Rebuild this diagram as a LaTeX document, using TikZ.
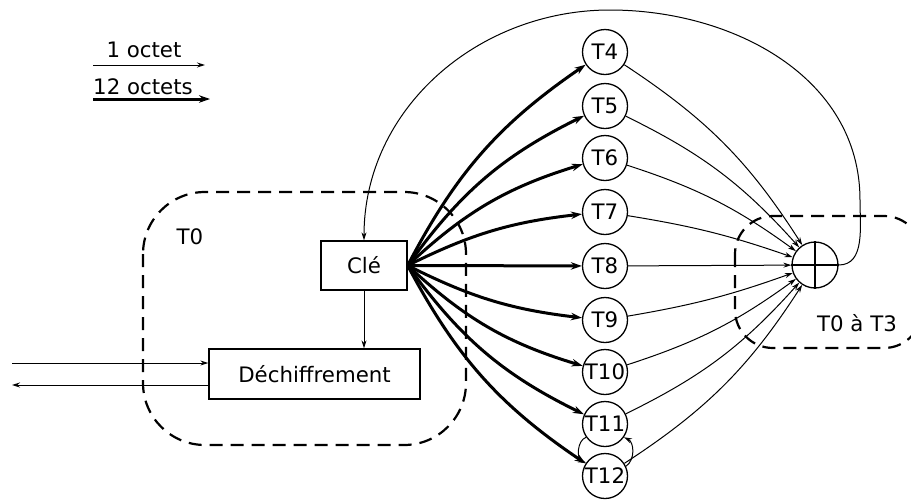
\documentclass[tikz,border=0pt]{standalone}
\usepackage{fontspec}
\setmainfont{DejaVu Sans}
\usetikzlibrary{arrows.meta}

\tikzset{
  every node/.style={font=\fontsize{21.3pt}{25pt}\selectfont},
  thinline/.style={line width=1pt, -{Stealth[length=8pt,width=5pt]}},
  thickline/.style={line width=3pt, -{Stealth[length=11pt,width=7.5pt]}},
  tnode/.style={circle, draw, line width=1.3pt, minimum size=45pt, inner sep=0pt},
  boxnode/.style={rectangle, draw, line width=1.3pt, inner sep=0pt},
  region/.style={line width=2.2pt, dash pattern=on 13pt off 8pt},
}

\begin{document}
\begin{tikzpicture}[x=1pt,y=-1pt]
\clip (0,0) rectangle (911,499);

% dashed regions
\draw[region, rounded corners=62pt] (143,192) rectangle (466,445);
\draw[region, rounded corners=38pt] (735,216) rectangle (922,348);
\node at (190,237) {T0};
\node at (857,323) {T0 à T3};

% legend
\coordinate (l1a) at (93,65);  \coordinate (l1b) at (205,65);
\coordinate (l2a) at (93,99);  \coordinate (l2b) at (210,99);
\node at (144,50) {1 octet};
\node at (143,87) {12 octets};
\draw[thinline] (l1a) -- (l1b);
\draw[thickline] (l2a) -- (l2b);

% key and decryption blocks
\node[boxnode, minimum width=86pt, minimum height=49pt] (cle) at (364,265.5) {Clé};
\node[boxnode, minimum width=211pt, minimum height=50pt] (dech) at (314.5,374) {Déchiffrement};
\draw[thinline] (cle.south) -- (cle.south |- dech.north);
\coordinate (in1) at (12,363);
\coordinate (out1) at (12,385);
\draw[thinline] (in1) -- (in1 -| dech.west);
\draw[thinline] (out1 -| dech.west) -- (out1);

% table nodes
\foreach \n/\y in {4/52,5/106,6/158,7/212,8/266,9/320,10/372,11/424,12/476}
  \node[tnode] (T\n) at (605,\y) {T\n};

% xor node
\node[circle, draw, line width=1.3pt, minimum size=46pt, inner sep=0pt] (xor) at (815,265) {};
\draw[line width=1.3pt] (xor.north) -- (xor.south);
\draw[line width=1.3pt] (xor.west) -- (xor.east);

% key bytes to tables
\draw[thickline] (cle.east) to[bend left=14] (T4);
\draw[thickline] (cle.east) to[bend left=14] (T5);
\draw[thickline] (cle.east) to[bend left=13] (T6);
\draw[thickline] (cle.east) to[bend left=10] (T7);
\draw[thickline] (cle.east) -- (T8);
\draw[thickline] (cle.east) to[bend right=10] (T9);
\draw[thickline] (cle.east) to[bend right=13] (T10);
\draw[thickline] (cle.east) to[bend right=14] (T11);
\draw[thickline] (cle.east) to[bend right=14] (T12);

% tables to xor
\draw[thinline] (T4) to[bend left=12] (xor);
\draw[thinline] (T5) to[bend left=11] (xor);
\draw[thinline] (T6) to[bend left=9] (xor);
\draw[thinline] (T7) to[bend left=5] (xor);
\draw[thinline] (T8) -- (xor);
\draw[thinline] (T9) to[bend right=5] (xor);
\draw[thinline] (T10) to[bend right=9] (xor);
\draw[thinline] (T11) to[bend right=11] (xor);
\draw[thinline] (T12) to[bend right=12] (xor);

% T11 <-> T12
\draw[thinline] (T11.215) to[bend right=70] (T12.145);
\draw[thinline] (T12.25) to[bend right=60] (T11.-35);

% feedback to the key
\coordinate (fbA) at (860,200);
\coordinate (fbB) at (610,10);
\draw[thinline] (xor.east) to[out=0,in=-90] (fbA) to[out=90,in=0] (fbB)
  to[out=180,in=90] (cle.north);
\end{tikzpicture}
\end{document}
